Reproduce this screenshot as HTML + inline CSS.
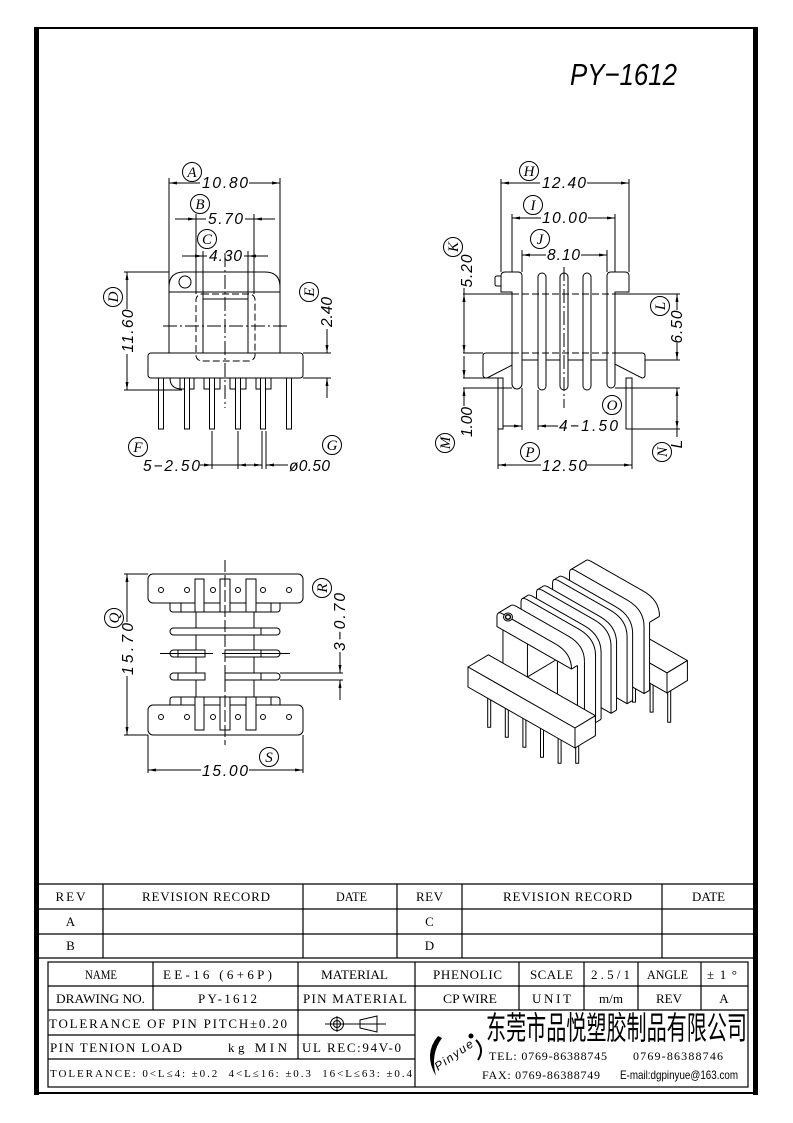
<!DOCTYPE html>
<html><head><meta charset="utf-8"><title>PY-1612</title>
<style>
html,body{margin:0;padding:0;background:#fff;width:793px;height:1123px;overflow:hidden}
svg{display:block}
text{fill:#000;stroke:none}
.d{font-family:"Liberation Sans",sans-serif;font-style:italic;font-size:15.5px}
.c{font-family:"Liberation Serif",serif;font-style:italic;font-size:15px}
.t{font-family:"Liberation Serif",serif;font-size:13px;white-space:pre}
.f{fill:#fff;stroke:none}
.s{fill:#fff;stroke:#000}
.n{fill:none;stroke:#000}
.dash{stroke-dasharray:7 3}
.cl{stroke-dasharray:14 3 2 3}
</style></head><body>
<svg xmlns="http://www.w3.org/2000/svg" width="793" height="1123" viewBox="0 0 793 1123">
<defs>
<marker id="a" viewBox="0 0 8 3" refX="8" refY="1.5" markerWidth="8" markerHeight="3" markerUnits="userSpaceOnUse" orient="auto-start-reverse"><path d="M0,0L8,1.5L0,3Z" fill="#000" stroke="none"/></marker>
<path id="pr" d="M14.5,-28L14.5,50Q14.5,56 20.5,56L72,56Q89,56 89,39L89,-28Z" vector-effect="non-scaling-stroke"/>
<path id="pro" d="M16,54.5Q17.5,56 20.5,56L72,56Q89,56 89,39L89,-28" vector-effect="non-scaling-stroke"/>
<path id="pc" d="M14.5,40L14.5,50Q14.5,56 20.5,56L73,56Q89,56 89,40Z" vector-effect="non-scaling-stroke"/>
<path id="pco" d="M16,54.5Q17.5,56 20.5,56L73,56Q89,56 89,40" vector-effect="non-scaling-stroke"/>
<path id="pl" d="M14.5,-28L14.5,40L89,40L89,-28Z" vector-effect="non-scaling-stroke"/>
<path id="plo" d="M89,40L89,-28" vector-effect="non-scaling-stroke"/>
</defs>

<!-- Frame -->
<rect x="34" y="27" width="724" height="2" fill="#000"/>
<rect x="34" y="27" width="5" height="1068" fill="#000"/>
<rect x="753" y="27" width="5" height="1068" fill="#000"/>
<rect x="34" y="1092" width="724" height="2" fill="#000"/>

<text x="570" y="85" style="font-family:'Liberation Sans',sans-serif;font-style:italic;font-size:31px" textLength="107" lengthAdjust="spacingAndGlyphs">PY−1612</text>

<!-- ================= FRONT VIEW (top-left) ================= -->
<g class="n" stroke-width="1">
<line x1="169" y1="178" x2="169" y2="353"/>
<line x1="280" y1="178" x2="280" y2="353"/>
<path d="M200,183H169" marker-end="url(#a)"/>
<path d="M249,183H280" marker-end="url(#a)"/>
<line x1="196" y1="214" x2="196" y2="294"/>
<line x1="254" y1="214" x2="254" y2="294"/>
<path d="M175,219H196" marker-end="url(#a)"/>
<path d="M196,219H206M245,219H254"/>
<path d="M275,219H254" marker-end="url(#a)"/>
<line x1="203" y1="251" x2="203" y2="299"/>
<line x1="248" y1="251" x2="248" y2="299"/>
<path d="M182,256H203" marker-end="url(#a)"/>
<path d="M203,256H207M244,256H248"/>
<path d="M268,256H248" marker-end="url(#a)"/>
<path d="M169,287Q169,272 184,272H265Q280,272 280,287"/>
<line x1="169" y1="292" x2="280" y2="292"/>
<circle cx="185" cy="282" r="6"/>
<rect x="196" y="294" width="59" height="67" rx="6" class="dash"/>
<path d="M203,353V299H248V353"/>
<line x1="225" y1="253" x2="225" y2="408" class="cl"/>
<line x1="163" y1="326" x2="287" y2="326" class="cl"/>
<rect x="148" y="353" width="155" height="25" rx="3"/>
<path d="M170,378Q170,389 182,389"/>
<rect x="180" y="378" width="14" height="11"/>
<rect x="204" y="378" width="16" height="11"/>
<rect x="230" y="378" width="16" height="11"/>
<rect x="256" y="378" width="15" height="11"/>
<rect class="s" x="158.5" y="378" width="5" height="51"/>
<rect class="s" x="184.5" y="378" width="5" height="51"/>
<rect class="s" x="209.5" y="378" width="5" height="51"/>
<rect class="s" x="235.5" y="378" width="5" height="51"/>
<rect class="s" x="260.5" y="378" width="5" height="51"/>
<rect class="s" x="286.5" y="378" width="5" height="51"/>
<line x1="124" y1="272" x2="169" y2="272"/>
<line x1="124" y1="390" x2="182" y2="390"/>
<path d="M127,309V272" marker-end="url(#a)"/>
<path d="M127,354V390" marker-end="url(#a)"/>
<line x1="303" y1="353" x2="331" y2="353"/>
<line x1="303" y1="378" x2="331" y2="378"/>
<path d="M327,329V353" marker-end="url(#a)"/>
<path d="M327,398V378" marker-end="url(#a)"/>
<path d="M212,431V469M238,431V469M262,431V469M266,431V469"/>
<path d="M200,465H212" marker-end="url(#a)"/>
<line x1="212" y1="465" x2="238" y2="465"/>
<path d="M250,465H238" marker-end="url(#a)"/>
<path d="M250,465H262" marker-end="url(#a)"/>
<path d="M288,465H266" marker-end="url(#a)"/>
<circle cx="192" cy="172" r="9.5"/><circle cx="200" cy="204" r="9.5"/><circle cx="207" cy="239" r="9.5"/>
<circle cx="138" cy="447" r="9.5"/><circle cx="332" cy="445" r="9.5"/>
<circle cx="113" cy="297" r="9.5"/><circle cx="309" cy="292" r="9.5"/>
</g>
<text class="c" x="192" y="177" text-anchor="middle">A</text>
<text class="c" x="200" y="209" text-anchor="middle">B</text>
<text class="c" x="207" y="244" text-anchor="middle">C</text>
<text class="c" x="138" y="452" text-anchor="middle">F</text>
<text class="c" x="332" y="450" text-anchor="middle">G</text>
<text class="c" text-anchor="middle" transform="translate(118,297) rotate(-90)">D</text>
<text class="c" text-anchor="middle" transform="translate(314,292) rotate(-90)">E</text>
<text class="d" x="202" y="188" textLength="46">10.80</text>
<text class="d" x="208" y="224" textLength="35">5.70</text>
<text class="d" x="209" y="261" textLength="33">4.30</text>
<text class="d" text-anchor="middle" textLength="43" transform="translate(133,331) rotate(-90)">11.60</text>
<text class="d" text-anchor="middle" textLength="30" transform="translate(332,312) rotate(-90)">2.40</text>
<text class="d" x="143" y="471" textLength="57">5−2.50</text>
<text class="d" x="289" y="471" textLength="41">ø0.50</text>

<!-- ================= SIDE VIEW (top-right) ================= -->
<g class="n" stroke-width="1">
<line x1="501" y1="179" x2="501" y2="272"/>
<line x1="629" y1="179" x2="629" y2="272"/>
<path d="M540,183H501" marker-end="url(#a)"/>
<path d="M587,183H629" marker-end="url(#a)"/>
<line x1="512" y1="214" x2="512" y2="292"/>
<line x1="615" y1="214" x2="615" y2="292"/>
<path d="M541,218H512" marker-end="url(#a)"/>
<path d="M588,218H615" marker-end="url(#a)"/>
<line x1="522" y1="250" x2="522" y2="272"/>
<line x1="607" y1="250" x2="607" y2="272"/>
<path d="M546,255H522" marker-end="url(#a)"/>
<path d="M581,255H607" marker-end="url(#a)"/>
<path class="f" d="M486,353H642Q645,353 645,356V375Q645,378 642,378L607,360H522L487,378Q483,378 483,375V356Q483,353 486,353Z"/>
<path d="M512,353H486Q483,353 483,356V375Q483,378 487,378L522,360H607L642,378Q645,378 645,375V356Q645,353 642,353H615"/>
<path class="s" d="M501,292V276Q501,272 505,272H518Q522,272 522,276V384A5,5 0 0 1 512,384V292Z"/>
<path d="M501,276H497Q495,276 495,278V284Q495,286 497,286H501"/>
<path class="s" d="M629,292V276Q629,272 625,272H611Q607,272 607,276V384A4,4 0 0 0 615,384V292Z"/>
<rect class="s" x="538" y="273" width="8" height="117" rx="4"/>
<rect class="s" x="560" y="273" width="8" height="117" rx="4"/>
<rect class="s" x="583" y="273" width="8" height="117" rx="4"/>
<line x1="463" y1="294" x2="512" y2="294"/>
<line x1="512" y1="294" x2="615" y2="294" class="dash"/>
<line x1="615" y1="294" x2="680" y2="294"/>
<line x1="463" y1="353" x2="483" y2="353"/>
<line x1="512" y1="353" x2="615" y2="353" class="dash"/>
<line x1="645" y1="360" x2="680" y2="360"/>
<rect class="s" x="498" y="378" width="5" height="51"/>
<rect class="s" x="626" y="378" width="6" height="51"/>
<line x1="564" y1="267" x2="564" y2="408" class="cl"/>
<line x1="464" y1="288" x2="464" y2="294"/>
<path d="M464,324V294" marker-end="url(#a)"/>
<path d="M464,324V353" marker-end="url(#a)"/>
<line x1="463" y1="378" x2="498" y2="378"/>
<line x1="463" y1="388" x2="512" y2="388"/>
<path d="M464,356V378" marker-end="url(#a)"/>
<path d="M464,406V388" marker-end="url(#a)"/>
<path d="M677,310V294" marker-end="url(#a)"/>
<path d="M677,343V360" marker-end="url(#a)"/>
<line x1="615" y1="388" x2="680" y2="388"/>
<line x1="632" y1="429" x2="680" y2="429"/>
<path d="M677,408V388" marker-end="url(#a)"/>
<path d="M677,408V429" marker-end="url(#a)"/>
<line x1="677" y1="429" x2="677" y2="437"/>
<line x1="522" y1="388" x2="522" y2="430"/>
<line x1="538" y1="390" x2="538" y2="430"/>
<path d="M503,426H522" marker-end="url(#a)"/>
<path d="M558,426H538" marker-end="url(#a)"/>
<line x1="498" y1="429" x2="498" y2="469"/>
<line x1="632" y1="429" x2="632" y2="469"/>
<path d="M541,465H498" marker-end="url(#a)"/>
<path d="M587,465H632" marker-end="url(#a)"/>
<circle cx="529" cy="171" r="9.5"/><circle cx="533" cy="205" r="9.5"/><circle cx="540" cy="239" r="9.5"/>
<circle cx="612" cy="405" r="9.5"/><circle cx="530" cy="452" r="9.5"/>
<circle cx="453" cy="247" r="9.5"/><circle cx="660" cy="306" r="9.5"/><circle cx="445" cy="443" r="9.5"/><circle cx="662" cy="452" r="9.5"/>
</g>
<text class="c" x="529" y="176" text-anchor="middle">H</text>
<text class="c" x="533" y="210" text-anchor="middle">I</text>
<text class="c" x="540" y="244" text-anchor="middle">J</text>
<text class="c" x="612" y="410" text-anchor="middle">O</text>
<text class="c" x="530" y="457" text-anchor="middle">P</text>
<text class="c" text-anchor="middle" transform="translate(458,247) rotate(-90)">K</text>
<text class="c" text-anchor="middle" transform="translate(665,306) rotate(-90)">L</text>
<text class="c" text-anchor="middle" transform="translate(450,443) rotate(-90)">M</text>
<text class="c" text-anchor="middle" transform="translate(667,452) rotate(-90)">N</text>
<text class="d" x="542" y="188" textLength="44">12.40</text>
<text class="d" x="542" y="223" textLength="45">10.00</text>
<text class="d" x="547" y="260" textLength="33">8.10</text>
<text class="d" x="559" y="431" textLength="59">4−1.50</text>
<text class="d" x="542" y="471" textLength="45">12.50</text>
<text class="d" text-anchor="middle" textLength="33" transform="translate(472,271) rotate(-90)">5.20</text>
<text class="d" text-anchor="middle" textLength="30" transform="translate(472,422) rotate(-90)">1.00</text>
<text class="d" text-anchor="middle" textLength="33" transform="translate(682,327) rotate(-90)">6.50</text>
<text class="d" text-anchor="middle" transform="translate(682,444) rotate(-90)">L</text>

<!-- ================= TOP VIEW (bottom-left) ================= -->
<g class="n" stroke-width="1">
<rect class="s" x="148" y="574" width="155" height="29" rx="5"/>
<path d="M170,603V609Q170,612 173,612H277Q280,612 280,609V603M181,603V612M271,603V612"/>
<rect class="s" x="195" y="579" width="9" height="33"/>
<rect class="s" x="220" y="579" width="10" height="33"/>
<rect class="s" x="246" y="579" width="10" height="33"/>
<circle cx="161" cy="590" r="2.5"/><circle cx="187" cy="590" r="2.5"/><circle cx="213" cy="590" r="2.5"/>
<circle cx="238" cy="590" r="2.5"/><circle cx="263" cy="590" r="2.5"/><circle cx="289" cy="590" r="2.5"/>
<line x1="196" y1="612" x2="196" y2="697"/>
<line x1="254" y1="612" x2="254" y2="697"/>
<rect class="s" x="170" y="628" width="110" height="7" rx="3.5"/>
<line x1="261" y1="628" x2="261" y2="635"/>
<path class="s" d="M205,650H173.5A3.5,3.5 0 0 0 173.5,657H205Z"/>
<path class="s" d="M225,650H276.5A3.5,3.5 0 0 1 276.5,657H225Z"/>
<path d="M178,650V657M261,650V657"/>
<path class="s" d="M205,673H173.5A3.5,3.5 0 0 0 173.5,680H205Z"/>
<path class="s" d="M225,673H276.5A3.5,3.5 0 0 1 276.5,680H225Z"/>
<path d="M178,673V680M261,673V680"/>
<line x1="280" y1="673" x2="343" y2="673"/>
<line x1="280" y1="680" x2="343" y2="680"/>
<line x1="160" y1="653.5" x2="213" y2="653.5"/>
<line x1="222" y1="653.5" x2="290" y2="653.5"/>
<path d="M170,706V700Q170,697 173,697H277Q280,697 280,700V706M181,697V706M271,697V706"/>
<rect class="s" x="148" y="705" width="155" height="30" rx="5"/>
<rect class="s" x="195" y="697" width="9" height="33"/>
<rect class="s" x="220" y="697" width="10" height="33"/>
<rect class="s" x="246" y="697" width="10" height="33"/>
<circle cx="161" cy="717" r="2.5"/><circle cx="187" cy="717" r="2.5"/><circle cx="213" cy="717" r="2.5"/>
<circle cx="238" cy="717" r="2.5"/><circle cx="263" cy="717" r="2.5"/><circle cx="289" cy="717" r="2.5"/>
<line x1="225" y1="560" x2="225" y2="745" stroke-dasharray="12 3"/>
<line x1="124" y1="574" x2="148" y2="574"/>
<line x1="124" y1="735" x2="148" y2="735"/>
<path d="M127,622V574" marker-end="url(#a)"/>
<path d="M127,676V735" marker-end="url(#a)"/>
<path d="M340,652V673" marker-end="url(#a)"/>
<path d="M340,700V680" marker-end="url(#a)"/>
<line x1="148" y1="735" x2="148" y2="773"/>
<line x1="303" y1="735" x2="303" y2="773"/>
<path d="M201,770H148" marker-end="url(#a)"/>
<path d="M249,770H303" marker-end="url(#a)"/>
<circle cx="269" cy="757" r="9.5"/>
<circle cx="114" cy="618" r="9.5"/><circle cx="322" cy="588" r="9.5"/>
</g>
<text class="c" x="269" y="762" text-anchor="middle">S</text>
<text class="c" text-anchor="middle" transform="translate(119,618) rotate(-90)">Q</text>
<text class="c" text-anchor="middle" transform="translate(327,588) rotate(-90)">R</text>
<text class="d" text-anchor="middle" textLength="52" transform="translate(133,649) rotate(-90)">15.70</text>
<text class="d" text-anchor="middle" textLength="58" transform="translate(345,622) rotate(-90)">3−0.70</text>
<text class="d" x="202" y="776" textLength="46">15.00</text>

<!-- ================= ISOMETRIC VIEW ================= -->
<g stroke="#000" stroke-width="1" stroke-linejoin="round">
<rect class="s" x="579.7" y="632" width="3" height="40"/>
<rect class="s" x="597.3" y="642.1" width="3" height="40"/>
<rect class="s" x="614.9" y="652.1" width="3" height="40"/>
<rect class="s" x="632.5" y="662.1" width="3" height="40"/>
<rect class="s" x="650.1" y="672.1" width="3" height="40"/>
<rect class="s" x="667.7" y="682.2" width="3" height="40"/>
<polygon class="s" points="560,611.9 667,672.9 687.4,660.6 580.4,599.6"/>
<polygon class="s" points="560,611.9 667,672.9 667,692.9 560,631.9"/>
<polygon class="s" points="667,672.9 687.4,660.6 687.4,680.6 667,692.9"/>

<!-- F5 back flange -->
<use href="#pl" class="f" transform="matrix(1 0.57 0 -1 560.56 611.53)"/>
<use href="#pl" class="f" transform="matrix(1 0.57 0 -1 559.69 612.05)"/>
<use href="#pl" class="f" transform="matrix(1 0.57 0 -1 558.81 612.58)"/>
<use href="#pl" class="f" transform="matrix(1 0.57 0 -1 557.94 613.10)"/>
<use href="#pl" class="f" transform="matrix(1 0.57 0 -1 557.06 613.63)"/>
<use href="#pl" class="f" transform="matrix(1 0.57 0 -1 556.18 614.15)"/>
<use href="#pl" class="f" transform="matrix(1 0.57 0 -1 555.60 614.50)"/>
<use href="#pl" class="f" transform="matrix(1 0.57 0 -1 555.02 614.85)"/>
<use href="#pc" class="f" transform="matrix(1 0.57 0 -1 570.49 605.58)"/>
<use href="#pc" class="f" transform="matrix(1 0.57 0 -1 569.62 606.10)"/>
<use href="#pc" class="f" transform="matrix(1 0.57 0 -1 568.74 606.63)"/>
<use href="#pc" class="f" transform="matrix(1 0.57 0 -1 567.86 607.15)"/>
<use href="#pc" class="f" transform="matrix(1 0.57 0 -1 566.99 607.68)"/>
<use href="#pc" class="f" transform="matrix(1 0.57 0 -1 566.11 608.20)"/>
<use href="#pc" class="f" transform="matrix(1 0.57 0 -1 565.24 608.73)"/>
<use href="#pc" class="f" transform="matrix(1 0.57 0 -1 564.36 609.25)"/>
<use href="#pc" class="f" transform="matrix(1 0.57 0 -1 563.48 609.78)"/>
<use href="#pc" class="f" transform="matrix(1 0.57 0 -1 562.61 610.30)"/>
<use href="#pc" class="f" transform="matrix(1 0.57 0 -1 561.73 610.83)"/>
<use href="#pc" class="f" transform="matrix(1 0.57 0 -1 560.86 611.35)"/>
<use href="#pc" class="f" transform="matrix(1 0.57 0 -1 559.98 611.88)"/>
<use href="#pc" class="f" transform="matrix(1 0.57 0 -1 559.10 612.40)"/>
<use href="#pc" class="f" transform="matrix(1 0.57 0 -1 558.23 612.93)"/>
<use href="#pc" class="f" transform="matrix(1 0.57 0 -1 557.35 613.45)"/>
<use href="#pc" class="f" transform="matrix(1 0.57 0 -1 556.48 613.98)"/>
<use href="#pc" class="f" transform="matrix(1 0.57 0 -1 555.60 614.50)"/>
<use href="#pc" class="f" transform="matrix(1 0.57 0 -1 555.02 614.85)"/>
<use href="#plo" class="n" transform="matrix(1 0.57 0 -1 560.56 611.53)"/>
<use href="#pco" class="n" transform="matrix(1 0.57 0 -1 570.49 605.58)"/>
<path class="n" d="M571,569.47L586.5,560.2M649.56,622.26L659.49,616.3M644.02,693.58L649.56,690.26"/>
<use href="#pr" class="n" transform="matrix(1 0.57 0 -1 555.02 614.85)"/>

<!-- R3 -->
<use href="#pr" class="f" transform="matrix(1 0.57 0 -1 543.63 621.68)"/>
<use href="#pr" class="f" transform="matrix(1 0.57 0 -1 542.75 622.20)"/>
<use href="#pr" class="f" transform="matrix(1 0.57 0 -1 541.88 622.73)"/>
<use href="#pr" class="f" transform="matrix(1 0.57 0 -1 541.00 623.25)"/>
<use href="#pr" class="f" transform="matrix(1 0.57 0 -1 540.12 623.78)"/>
<use href="#pr" class="f" transform="matrix(1 0.57 0 -1 539.25 624.30)"/>
<use href="#pr" class="f" transform="matrix(1 0.57 0 -1 538.66 624.65)"/>
<use href="#pr" class="f" transform="matrix(1 0.57 0 -1 538.08 625.00)"/>
<use href="#pro" class="n" transform="matrix(1 0.57 0 -1 543.63 621.68)"/>
<use href="#pr" class="n" transform="matrix(1 0.57 0 -1 538.08 625.00)"/>
<path class="n" d="M554.08,579.62L559.63,576.3M627.08,703.73L632.63,700.4"/>

<!-- R2 -->
<use href="#pr" class="f" transform="matrix(1 0.57 0 -1 527.57 631.30)"/>
<use href="#pr" class="f" transform="matrix(1 0.57 0 -1 526.69 631.83)"/>
<use href="#pr" class="f" transform="matrix(1 0.57 0 -1 525.82 632.35)"/>
<use href="#pr" class="f" transform="matrix(1 0.57 0 -1 524.94 632.88)"/>
<use href="#pr" class="f" transform="matrix(1 0.57 0 -1 524.06 633.40)"/>
<use href="#pr" class="f" transform="matrix(1 0.57 0 -1 523.19 633.93)"/>
<use href="#pr" class="f" transform="matrix(1 0.57 0 -1 522.60 634.28)"/>
<use href="#pr" class="f" transform="matrix(1 0.57 0 -1 522.02 634.63)"/>
<use href="#pro" class="n" transform="matrix(1 0.57 0 -1 527.57 631.30)"/>
<use href="#pr" class="n" transform="matrix(1 0.57 0 -1 522.02 634.63)"/>
<path class="n" d="M538.02,589.25L543.57,585.92M611.02,713.35L616.57,710.03"/>

<!-- R1 -->
<use href="#pr" class="f" transform="matrix(1 0.57 0 -1 512.09 640.58)"/>
<use href="#pr" class="f" transform="matrix(1 0.57 0 -1 511.22 641.10)"/>
<use href="#pr" class="f" transform="matrix(1 0.57 0 -1 510.34 641.63)"/>
<use href="#pr" class="f" transform="matrix(1 0.57 0 -1 509.46 642.15)"/>
<use href="#pr" class="f" transform="matrix(1 0.57 0 -1 508.59 642.68)"/>
<use href="#pr" class="f" transform="matrix(1 0.57 0 -1 507.71 643.20)"/>
<use href="#pr" class="f" transform="matrix(1 0.57 0 -1 507.13 643.55)"/>
<use href="#pr" class="f" transform="matrix(1 0.57 0 -1 506.54 643.90)"/>
<use href="#pro" class="n" transform="matrix(1 0.57 0 -1 512.09 640.58)"/>
<use href="#pr" class="n" transform="matrix(1 0.57 0 -1 506.54 643.90)"/>
<path class="n" d="M522.54,598.52L528.09,595.2M595.54,722.63L601.09,719.3"/>

<!-- F1 front flange lower -->
<use href="#pl" class="f" transform="matrix(1 0.57 0 -1 495.45 650.55)"/>
<use href="#pl" class="f" transform="matrix(1 0.57 0 -1 494.57 651.08)"/>
<use href="#pl" class="f" transform="matrix(1 0.57 0 -1 493.70 651.60)"/>
<use href="#pl" class="f" transform="matrix(1 0.57 0 -1 492.82 652.13)"/>
<use href="#pl" class="f" transform="matrix(1 0.57 0 -1 491.94 652.65)"/>
<use href="#pl" class="f" transform="matrix(1 0.57 0 -1 491.07 653.18)"/>
<use href="#pl" class="f" transform="matrix(1 0.57 0 -1 490.19 653.70)"/>
<use href="#pl" class="f" transform="matrix(1 0.57 0 -1 489.32 654.23)"/>
<use href="#pl" class="f" transform="matrix(1 0.57 0 -1 488.44 654.75)"/>
<use href="#plo" class="n" transform="matrix(1 0.57 0 -1 495.45 650.55)"/>
<path class="n" d="M502.94,623.02V691.02M577.44,665.48V733.48M527.44,636.98V676.98M557.44,654.08V694.08M527.44,676.98L557.44,659"/>
<!-- F1 cap -->
<use href="#pc" class="f" transform="matrix(1 0.57 0 -1 495.45 650.55)"/>
<use href="#pc" class="f" transform="matrix(1 0.57 0 -1 494.57 651.08)"/>
<use href="#pc" class="f" transform="matrix(1 0.57 0 -1 493.70 651.60)"/>
<use href="#pc" class="f" transform="matrix(1 0.57 0 -1 492.82 652.13)"/>
<use href="#pc" class="f" transform="matrix(1 0.57 0 -1 491.94 652.65)"/>
<use href="#pc" class="f" transform="matrix(1 0.57 0 -1 491.07 653.18)"/>
<use href="#pc" class="f" transform="matrix(1 0.57 0 -1 490.19 653.70)"/>
<use href="#pc" class="f" transform="matrix(1 0.57 0 -1 489.32 654.23)"/>
<use href="#pc" class="f" transform="matrix(1 0.57 0 -1 488.44 654.75)"/>
<use href="#pc" class="f" transform="matrix(1 0.57 0 -1 487.56 655.28)"/>
<use href="#pc" class="f" transform="matrix(1 0.57 0 -1 486.69 655.80)"/>
<use href="#pc" class="f" transform="matrix(1 0.57 0 -1 485.81 656.33)"/>
<use href="#pc" class="f" transform="matrix(1 0.57 0 -1 484.94 656.85)"/>
<use href="#pc" class="f" transform="matrix(1 0.57 0 -1 484.06 657.38)"/>
<use href="#pc" class="f" transform="matrix(1 0.57 0 -1 483.18 657.90)"/>
<use href="#pc" class="f" transform="matrix(1 0.57 0 -1 482.48 658.32)"/>
<use href="#pco" class="n" transform="matrix(1 0.57 0 -1 495.45 650.55)"/>
<use href="#pc" class="n" transform="matrix(1 0.57 0 -1 482.48 658.32)"/>
<path class="n" d="M498.48,612.94L511.45,605.17M571.48,669.05L577.44,665.48"/>
<ellipse class="s" cx="508" cy="617" rx="4.5" ry="4"/>
<ellipse class="n" cx="508" cy="617" rx="2.5" ry="2.2" stroke-width="1.5"/>

<!-- front pins -->
<rect class="s" x="487.7" y="687.2" width="3" height="40"/>
<rect class="s" x="505.3" y="697.2" width="3" height="40"/>
<rect class="s" x="522.9" y="707.2" width="3" height="40"/>
<rect class="s" x="540.5" y="717.3" width="3" height="40"/>
<rect class="s" x="558.1" y="727.3" width="3" height="36"/>
<rect class="s" x="575.7" y="737.3" width="3" height="26"/>
<polygon class="s" points="468,667 575,728 595.4,715.7 488.4,654.8"/>
<polygon class="s" points="468,667 575,728 575,748 468,687"/>
<polygon class="s" points="575,728 595.4,715.7 595.4,735.7 575,748"/>
</g>

<!-- ================= TABLES ================= -->
<g class="n" stroke-width="1.2">
<path d="M38,884H753M38,909H753M38,934H753M38,958H753"/>
<path d="M103,884V958M303,884V958M397,884V958M462,884V958M662,884V958"/>
<rect x="48" y="962" width="700" height="125"/>
<path d="M48,986H748M48,1010H748M48,1035H415M48,1059H415"/>
<path d="M153,962V1010M298,962V1059M415,962V1087M519,962V1010M584,962V1010M638,962V1010M701,962V1010"/>
</g>
<text class="t" x="70.5" y="901" text-anchor="middle" textLength="30">REV</text>
<text class="t" x="142" y="901" textLength="128">REVISION RECORD</text>
<text class="t" x="336" y="901" textLength="31" lengthAdjust="spacingAndGlyphs">DATE</text>
<text class="t" x="429.5" y="901" text-anchor="middle" textLength="27">REV</text>
<text class="t" x="503" y="901" textLength="129">REVISION RECORD</text>
<text class="t" x="692" y="901" textLength="33" lengthAdjust="spacingAndGlyphs">DATE</text>
<text class="t" x="70.5" y="926" text-anchor="middle">A</text>
<text class="t" x="429.5" y="926" text-anchor="middle">C</text>
<text class="t" x="70.5" y="950" text-anchor="middle">B</text>
<text class="t" x="429.5" y="950" text-anchor="middle">D</text>

<text class="t" x="85" y="979" textLength="32" lengthAdjust="spacingAndGlyphs">NAME</text>
<text class="t" x="163" y="979" textLength="109">EE-16 (6+6P)</text>
<text class="t" x="321" y="979" textLength="67" lengthAdjust="spacingAndGlyphs">MATERIAL</text>
<text class="t" x="433" y="979" textLength="69">PHENOLIC</text>
<text class="t" x="530" y="979" textLength="43">SCALE</text>
<text class="t" x="591" y="979" textLength="39">2.5/1</text>
<text class="t" x="647" y="979" textLength="41" lengthAdjust="spacingAndGlyphs">ANGLE</text>
<text class="t" x="707" y="979" textLength="30">±1°</text>
<text class="t" x="56" y="1003" textLength="89" lengthAdjust="spacingAndGlyphs">DRAWING NO.</text>
<text class="t" x="198" y="1003" textLength="59">PY-1612</text>
<text class="t" x="303" y="1003" textLength="104">PIN MATERIAL</text>
<text class="t" x="443" y="1003" textLength="54" lengthAdjust="spacingAndGlyphs">CP WIRE</text>
<text class="t" x="532" y="1003" textLength="39">UNIT</text>
<text class="t" x="599" y="1003" textLength="24" lengthAdjust="spacingAndGlyphs">m/m</text>
<text class="t" x="656" y="1003" textLength="26">REV</text>
<text class="t" x="724" y="1003" text-anchor="middle">A</text>
<text class="t" x="49" y="1028" textLength="238">TOLERANCE OF PIN PITCH±0.20</text>
<text class="t" x="50" y="1052" textLength="132">PIN TENION LOAD</text>
<text class="t" x="228" y="1052" textLength="59">kg MIN</text>
<text class="t" x="302" y="1052" textLength="99">UL REC:94V-0</text>
<text class="t" x="50" y="1077" style="font-size:11px" textLength="362">TOLERANCE: 0&lt;L≤4: ±0.2  4&lt;L≤16: ±0.3  16&lt;L≤63: ±0.4</text>

<g class="n" stroke-width="1">
<circle cx="337" cy="1024" r="6.5"/>
<circle cx="337" cy="1024" r="3.5"/>
<path d="M325,1024H386M337,1016V1032"/>
<path d="M360,1020L377,1016V1032L360,1028Z"/>
</g>

<path d="M438,1036Q423,1054 436,1076Q430,1054 442,1038Z" fill="#000"/>
<text transform="translate(438,1071) rotate(-35)" style="font-family:'Liberation Sans',sans-serif;font-style:italic;font-size:12px" textLength="44">Pinyue</text>
<circle cx="471" cy="1036" r="2.5" fill="#000"/>
<path d="M476,1040Q485,1049 478,1060" fill="none" stroke="#000" stroke-width="2"/>
<text x="486" y="1039" style="font-family:'Liberation Sans','Noto Sans CJK SC',sans-serif;font-size:32px" textLength="261" lengthAdjust="spacingAndGlyphs">东莞市品悦塑胶制品有限公司</text>
<text class="t" x="489" y="1060" style="font-size:12px" textLength="118">TEL: 0769-86388745</text>
<text class="t" x="633" y="1060" style="font-size:12px" textLength="90">0769-86388746</text>
<text class="t" x="482" y="1079" style="font-size:12px" textLength="118">FAX: 0769-86388749</text>
<text x="620" y="1079" style="font-family:'Liberation Sans',sans-serif;font-size:12px" textLength="118" lengthAdjust="spacingAndGlyphs">E-mail:dgpinyue@163.com</text>
</svg>
</body></html>
